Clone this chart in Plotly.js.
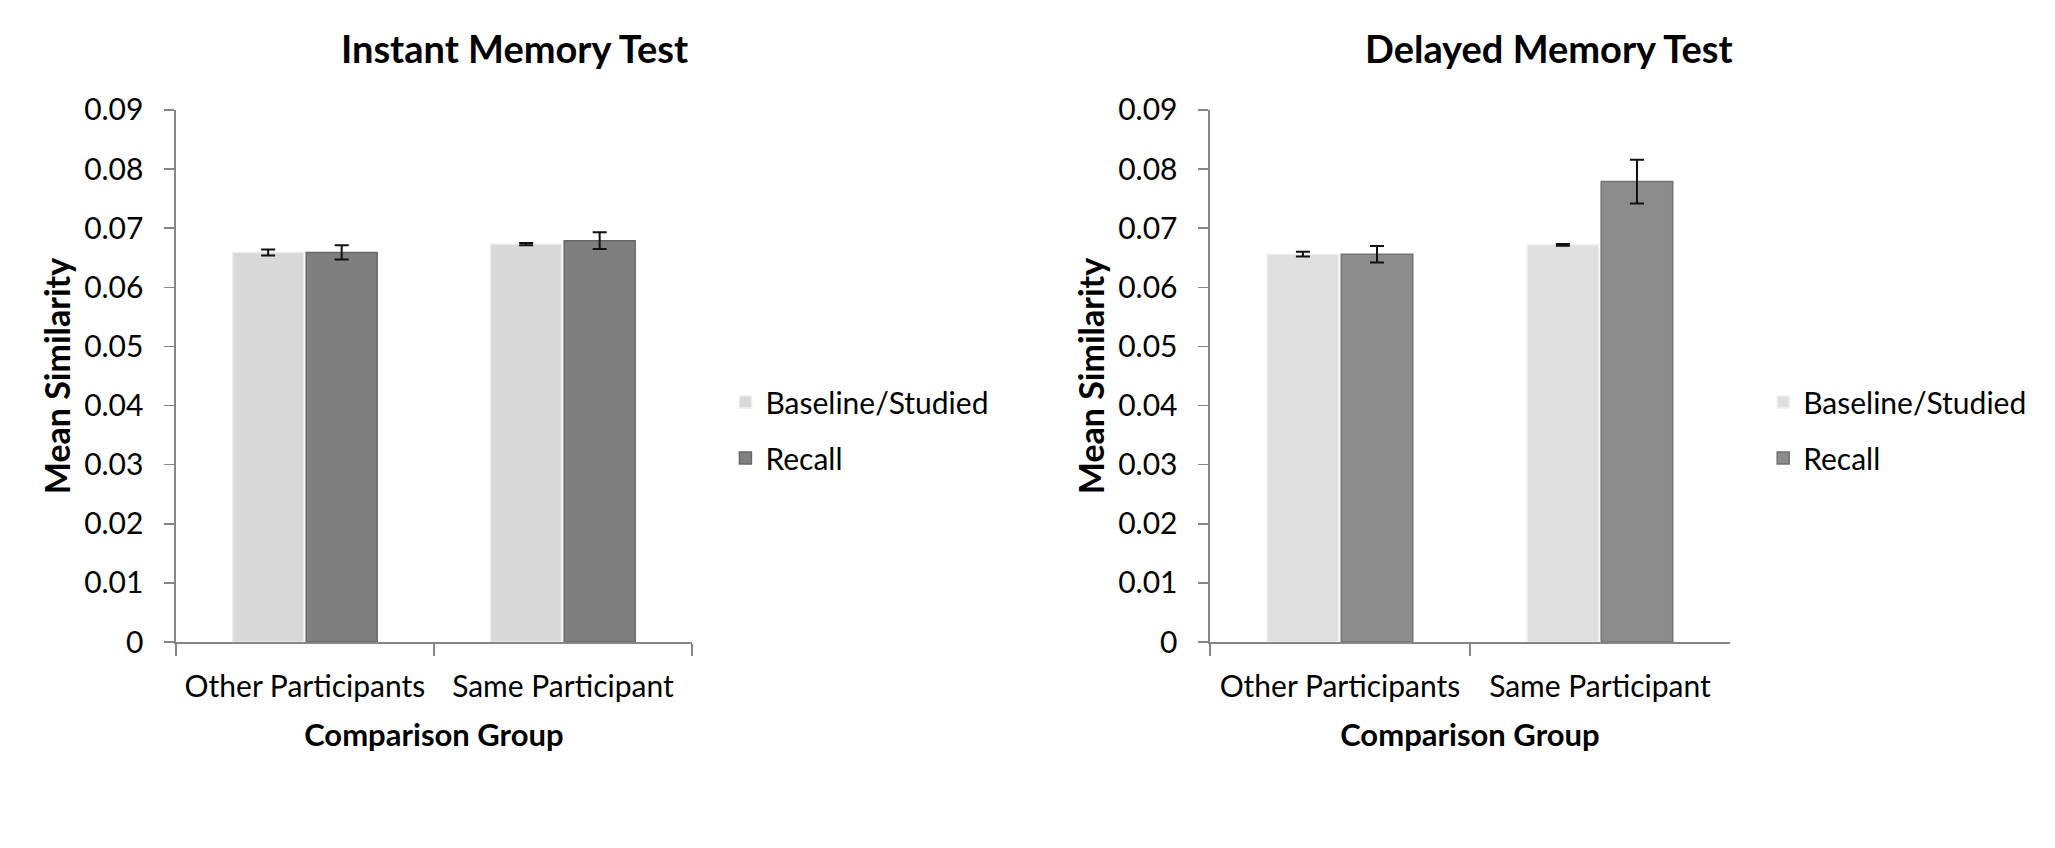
<!DOCTYPE html>
<html>
<head>
<meta charset="utf-8">
<script src="https://cdn.plot.ly/plotly-3.0.1.min.js"></script>
<style>
  html, body { margin: 0; padding: 0; background: #fff; }
  #graph { width: 2055px; height: 848px; }
</style>
</head>
<body>
<div id="graph"></div>
<script>
// categories and values
var groups = ['Other Participants', 'Same Participant'];

var instantBaseline = [0.0659, 0.0673];
var instantBaselineErr = [0.0005, 0.0002];
var instantRecall = [0.0659, 0.0679];
var instantRecallErr = [0.0012, 0.0014];

var delayedBaseline = [0.0656, 0.0672];
var delayedBaselineErr = [0.0004, 0.00015];
var delayedRecall = [0.0656, 0.0779];
var delayedRecallErr = [0.0014, 0.0037];

var yTicks = [0, 0.01, 0.02, 0.03, 0.04, 0.05, 0.06, 0.07, 0.08, 0.09];
var yTickText = ['0', '0.01', '0.02', '0.03', '0.04', '0.05', '0.06', '0.07', '0.08', '0.09'];

var FONT = 'Lato, "Open Sans", sans-serif';
var axisGrey = '#868686';

function barTrace(name, vals, errs, color, edge, xa, ya, leg, grp){
    return {
        type: 'bar',
        name: name,
        x: groups,
        y: vals,
        xaxis: xa,
        yaxis: ya,
        legend: leg,
        legendgroup: grp,
        marker: {color: color, line: {color: edge, width: 1.5}},
        error_y: {type: 'data', array: errs, visible: true, color: '#111', thickness: 2, width: 7},
        hoverinfo: 'x+y+name'
    };
}

var data = [
    barTrace('Baseline/Studied', instantBaseline, instantBaselineErr, '#d9d9d9', '#ebebeb', 'x', 'y', 'legend', 'b1'),
    barTrace('Recall', instantRecall, instantRecallErr, '#7f7f7f', '#686868', 'x', 'y', 'legend', 'r1'),
    barTrace('Baseline/Studied', delayedBaseline, delayedBaselineErr, '#dfdfdf', '#efefef', 'x2', 'y2', 'legend2', 'b2'),
    barTrace('Recall', delayedRecall, delayedRecallErr, '#8c8c8c', '#727272', 'x2', 'y2', 'legend2', 'r2')
];

function xAxis(dom, anchor){
    return {
        domain: dom,
        anchor: anchor,
        type: 'category',
        showline: true,
        linecolor: axisGrey,
        linewidth: 1.5,
        ticks: 'outside',
        tickson: 'boundaries',
        ticklen: 12,
        tickcolor: axisGrey,
        tickwidth: 1.5,
        showgrid: false,
        zeroline: false,
        ticklabelstandoff: 17,
        tickfont: {family: FONT, size: 30, color: '#000'},
        title: {text: 'Comparison Group', standoff: 23,
                font: {family: FONT, size: 31, color: '#000', weight: 'bold'}},
        fixedrange: true
    };
}

function yAxis(anchor){
    return {
        domain: [0.2429, 0.8703],
        anchor: anchor,
        range: [0, 0.09],
        tickvals: yTicks,
        ticktext: yTickText,
        showline: true,
        linecolor: axisGrey,
        linewidth: 1.5,
        ticks: 'outside',
        ticklen: 10,
        tickcolor: axisGrey,
        tickwidth: 1.5,
        showgrid: false,
        zeroline: false,
        ticklabelstandoff: 15,
        tickfont: {family: FONT, size: 30, color: '#000'},
        title: {text: 'Mean Similarity', standoff: 3,
                font: {family: FONT, size: 34, color: '#000', weight: 'bold'}},
        fixedrange: true
    };
}

function legendBox(x){
    return {
        x: x, y: 0.493, xanchor: 'left', yanchor: 'middle',
        font: {family: FONT, size: 30, color: '#000'},
        tracegroupgap: 14,
        bgcolor: 'rgba(0,0,0,0)'
    };
}

var layout = {
    width: 2055,
    height: 848,
    margin: {l: 0, r: 0, t: 0, b: 0},
    paper_bgcolor: '#fff',
    plot_bgcolor: '#fff',
    font: {family: FONT, color: '#000'},
    barmode: 'group',
    bargap: 0.43,
    bargroupgap: 0.035,
    xaxis: xAxis([0.0856, 0.3367], 'y'),
    yaxis: yAxis('x'),
    xaxis2: xAxis([0.5888, 0.8418], 'y2'),
    yaxis2: yAxis('x2'),
    legend: legendBox(0.353),
    legend2: legendBox(0.858),
    annotations: [
        {text: 'Instant Memory Test', xref: 'paper', yref: 'paper', x: 514 / 2055, y: 1 - 48 / 848,
         xanchor: 'center', yanchor: 'middle', showarrow: false,
         font: {family: FONT, size: 38, color: '#000', weight: 'bold'}},
        {text: 'Delayed Memory Test', xref: 'paper', yref: 'paper', x: 1549 / 2055, y: 1 - 48 / 848,
         xanchor: 'center', yanchor: 'middle', showarrow: false,
         font: {family: FONT, size: 38, color: '#000', weight: 'bold'}}
    ]
};

Plotly.newPlot('graph', data, layout, {displayModeBar: false, staticPlot: true});
</script>
</body>
</html>
